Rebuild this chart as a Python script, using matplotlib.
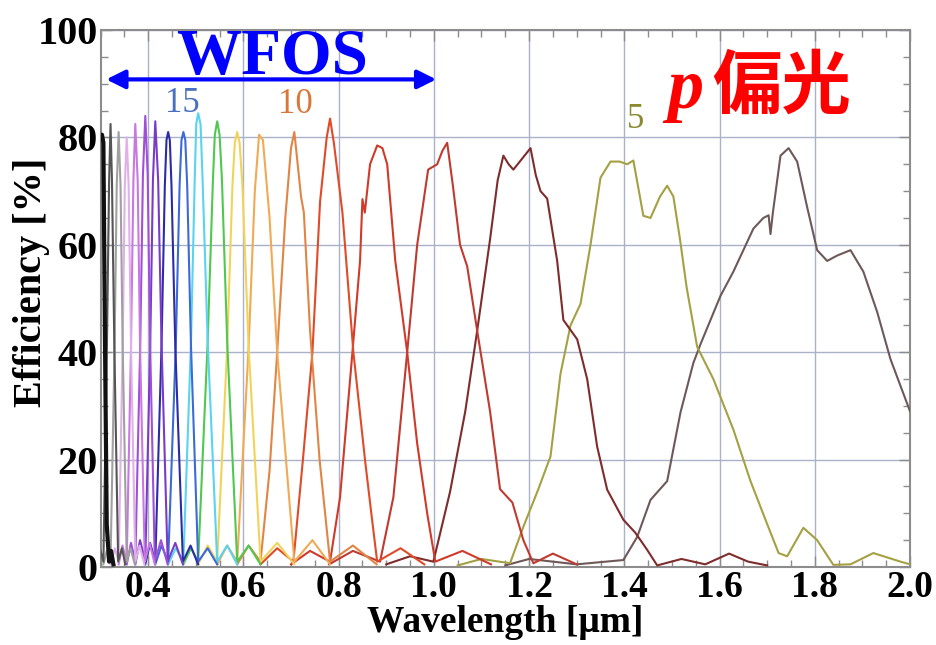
import matplotlib.pyplot as plt
from matplotlib.ticker import MultipleLocator

# efficiency curves, one per diffraction order
# wavelength in micron, efficiency in %
wl_m23 = [0.300, 0.303, 0.306, 0.309, 0.313, 0.318, 0.322, 0.327]
eff_m23 = [80, 80.5, 79, 45, 8, 1, 3, 0.5]

wl_m22 = [0.300, 0.306, 0.3135, 0.318, 0.321, 0.324, 0.329, 0.337, 0.345, 0.352]
eff_m22 = [3, 1, 42, 72, 82.5, 72, 41, 1, 3.5, 0.5]

wl_m21 = [0.306, 0.313, 0.321, 0.3295, 0.334, 0.338, 0.342, 0.3465, 0.355, 0.363, 0.372]
eff_m21 = [0.5, 3, 1, 41, 71, 81, 71, 41, 1, 3.5, 0.5]

wl_m20 = [0.321, 0.330, 0.338, 0.3465, 0.351, 0.355, 0.359, 0.364, 0.373, 0.382, 0.392]
eff_m20 = [0.5, 3.5, 1, 41, 71, 80, 71, 41, 1, 4, 0.5]

wl_m19 = [0.338, 0.346, 0.355, 0.364, 0.369, 0.373, 0.378, 0.383, 0.393, 0.403, 0.414]
eff_m19 = [0.5, 4, 1, 41, 72, 82.5, 72, 41, 1, 4.5, 0.5]

wl_m18 = [0.355, 0.364, 0.373, 0.3835, 0.389, 0.394, 0.399, 0.404, 0.414, 0.427, 0.441]
eff_m18 = [0.5, 4.5, 1, 42, 73, 84, 73, 42, 1, 5, 0.5]

wl_m17 = [0.373, 0.383, 0.394, 0.4045, 0.410, 0.415, 0.421, 0.428, 0.441, 0.457, 0.473]
eff_m17 = [0.5, 5, 1, 42, 72, 83, 72, 42, 1, 4.5, 0.5]

wl_m16 = [0.394, 0.404, 0.415, 0.428, 0.435, 0.4385, 0.442, 0.4455, 0.449, 0.457,
          0.473, 0.489, 0.505]
eff_m16 = [0.5, 4.5, 1, 41, 71, 79.5, 81, 79.5, 71, 41, 1, 4, 0.5]

wl_m15 = [0.415, 0.428, 0.442, 0.458, 0.466, 0.470, 0.474, 0.478, 0.482, 0.490,
          0.505, 0.525, 0.545]
eff_m15 = [0.5, 4, 1, 41, 71, 79.5, 81, 79.5, 71, 41, 1, 3.5, 0.5]

wl_m14 = [0.442, 0.458, 0.474, 0.490, 0.498, 0.501, 0.505, 0.510, 0.514, 0.525,
          0.545, 0.566, 0.587]
eff_m14 = [0.5, 3.5, 1, 42, 73, 82.5, 84.5, 82.5, 73, 42, 1, 4, 0.5]

wl_m13 = [0.474, 0.490, 0.505, 0.525, 0.536, 0.540, 0.545, 0.550, 0.555, 0.566,
          0.587, 0.611, 0.636]
eff_m13 = [0.5, 3.5, 1, 42, 72, 80.5, 83, 80.5, 72, 42, 1, 4, 0.5]

wl_m12 = [0.505, 0.525, 0.545, 0.566, 0.577, 0.582, 0.587, 0.592, 0.598, 0.611,
          0.636, 0.671, 0.707]
eff_m12 = [0.5, 4, 1, 41, 71, 79, 81, 79, 71, 41, 1, 4.5, 0.5]

wl_m11 = [0.545, 0.566, 0.587, 0.611, 0.624, 0.633, 0.641, 0.655, 0.671, 0.707, 0.745, 0.782]
eff_m11 = [0.5, 4, 1, 41, 70, 80.5, 79.5, 65, 40, 1, 5, 0.5]

wl_m10 = [0.587, 0.611, 0.636, 0.655, 0.671, 0.688, 0.700, 0.707, 0.714, 0.721, 0.727,
          0.740, 0.760, 0.782, 0.83, 0.88]
eff_m10 = [0.5, 4, 1, 18, 40, 65, 78, 81, 75, 69, 66, 44, 20, 1, 4, 0.5]

wl_m9 = [0.636, 0.671, 0.705, 0.725, 0.745, 0.761, 0.775, 0.782, 0.790, 0.808, 0.831,
         0.856, 0.870, 0.881, 0.93, 0.98]
eff_m9 = [0.5, 3.5, 1, 20, 40, 68, 80, 83.5, 79, 66, 40, 19.5, 9, 1, 3.5, 0.5]

wl_m8 = [0.70, 0.74, 0.782, 0.803, 0.829, 0.845, 0.850, 0.855, 0.866, 0.881, 0.892,
         0.902, 0.919, 0.944, 0.965, 0.986, 1.003, 1.06, 1.12]
eff_m8 = [0.5, 3, 1, 13, 40, 57, 68.5, 66, 75, 78.5, 78, 75, 57, 40, 23, 10, 1, 3, 0.5]

wl_m7 = [0.78, 0.83, 0.887, 0.915, 0.944, 0.965, 0.988, 1.007, 1.018, 1.028, 1.040,
         1.055, 1.070, 1.091, 1.118, 1.139, 1.165, 1.188, 1.209, 1.25, 1.30]
eff_m7 = [0.5, 3, 1, 13, 40, 60, 74, 75, 77.5, 79, 71, 60, 56, 44, 29, 14.5, 12, 5,
          0.7, 2.5, 0.5]

wl_m6 = [0.90, 0.95, 0.999, 1.034, 1.066, 1.091, 1.118, 1.134, 1.146, 1.157, 1.167,
         1.185, 1.203, 1.214, 1.224, 1.238, 1.259, 1.272, 1.301, 1.322, 1.343, 1.364,
         1.398, 1.423, 1.448, 1.469, 1.52, 1.57, 1.62, 1.66, 1.70]
eff_m6 = [0.5, 2, 1, 14, 29, 44, 61, 72, 76.6, 75, 74, 76, 78, 73, 70, 68.6, 57, 46,
          42.4, 35, 22.4, 14.4, 8.8, 6.4, 3.2, 0.3, 1.5, 0.5, 2.5, 1, 0.3]

wl_m5 = [1.05, 1.10, 1.160, 1.188, 1.219, 1.245, 1.266, 1.287, 1.308, 1.329, 1.350,
         1.371, 1.390, 1.406, 1.419, 1.440, 1.455, 1.475, 1.490, 1.503, 1.517, 1.531,
         1.553, 1.587, 1.629, 1.665, 1.700, 1.724, 1.742, 1.776, 1.805, 1.839, 1.875,
         1.923, 1.980, 2.0]
eff_m5 = [0.3, 1.5, 0.7, 7.5, 14.4, 20.6, 36, 45, 49, 60, 72.5, 75.5, 75.5, 75, 75.7,
          65.4, 65, 69, 71, 69, 61, 52, 41, 35, 25.6, 16, 8, 2.6, 2, 7.3, 5, 0.4, 0.5,
          2.6, 1, 0.5]

wl_m4 = [1.15, 1.20, 1.30, 1.398, 1.427, 1.455, 1.490, 1.518, 1.545, 1.560, 1.581,
         1.602, 1.629, 1.650, 1.671, 1.692, 1.703, 1.707, 1.712, 1.728, 1.745, 1.763,
         1.784, 1.805, 1.826, 1.847, 1.875, 1.902, 1.931, 1.959, 2.0]
eff_m4 = [0.3, 1.5, 0.5, 1.3, 5.6, 12.5, 16, 28.8, 38, 41.5, 46, 50.5, 55, 59, 63, 65,
          65.5, 62, 66, 76.6, 78, 75.5, 67, 59, 57, 58, 59, 55, 47.5, 38.7, 29]

order_colors = ['#6e5858', '#a5a043', '#7e2c2c', '#c03a30', '#d03a2a', '#e04a28',
                '#e08545', '#f0aa55', '#f2d35a', '#50c850', '#58d4f0', '#3c6ad8',
                '#2c2ca8', '#7a3cc8', '#a050d8', '#c878e0', '#e0b0e8', '#a0a0a0',
                '#555555', '#111111']

curves = [(wl_m4, eff_m4), (wl_m5, eff_m5), (wl_m6, eff_m6), (wl_m7, eff_m7),
          (wl_m8, eff_m8), (wl_m9, eff_m9), (wl_m10, eff_m10), (wl_m11, eff_m11),
          (wl_m12, eff_m12), (wl_m13, eff_m13), (wl_m14, eff_m14), (wl_m15, eff_m15),
          (wl_m16, eff_m16), (wl_m17, eff_m17), (wl_m18, eff_m18), (wl_m19, eff_m19),
          (wl_m20, eff_m20), (wl_m21, eff_m21), (wl_m22, eff_m22), (wl_m23, eff_m23)]

xticks = [0.4, 0.6, 0.8, 1.0, 1.2, 1.4, 1.6, 1.8, 2.0]
yticks = [0, 20, 40, 60, 80, 100]

serif = ['Liberation Serif', 'DejaVu Serif']
frame_gray = '#8c8c8c'

fig = plt.figure(figsize=(9.37, 6.45), dpi=100)
ax = fig.add_axes([0.1073, 0.1209, 0.8639, 0.8326])

for (wl, eff), col in zip(curves, order_colors):
    lw = 3.0 if col == '#111111' else 1.5
    ax.plot(wl, eff, color=col, lw=lw, solid_joinstyle='round', zorder=3)

ax.set_xlim(0.3, 2.0)
ax.set_ylim(0, 100)
ax.set_xticks(xticks)
ax.set_xticklabels(['%.1f' % t for t in xticks])
ax.set_yticks(yticks)
ax.set_yticklabels([str(t) for t in yticks])
ax.xaxis.set_minor_locator(MultipleLocator(0.05))
ax.yaxis.set_minor_locator(MultipleLocator(5))
ax.grid(True, which='major', color='#aab2c8', lw=1.0, zorder=1)

ax.tick_params(which='both', direction='in', top=True, right=True, color=frame_gray)
ax.tick_params(which='major', length=8, width=1)
ax.tick_params(which='minor', length=5, width=1)
ax.tick_params(axis='x', pad=2)
ax.tick_params(axis='y', pad=2)
for lab in ax.get_xticklabels():
    lab.set_fontfamily(serif)
    lab.set_fontweight('bold')
    lab.set_fontsize(27)
for lab in ax.get_yticklabels():
    lab.set_fontfamily(serif)
    lab.set_fontweight('bold')
    lab.set_fontsize(29)
for sp in ax.spines.values():
    sp.set_color(frame_gray)
    sp.set_linewidth(1.5)

ax.set_xlabel('Wavelength [μm]', family=serif, fontweight='bold', fontsize=27, labelpad=0.5)
ax.set_ylabel('Efficiency [%]', family=serif, fontweight='bold', fontsize=29)
ax.yaxis.set_label_coords(-0.062, 0.53)

# WFOS range arrow
ax.annotate('', xy=(0.312, 90.8), xytext=(1.005, 90.8),
            arrowprops=dict(arrowstyle='<|-|>', color='#0000ff', lw=3,
                            mutation_scale=28, shrinkA=0, shrinkB=0), zorder=5)
ax.text(0.661, 94.8, 'WFOS', color='#0000ff', family=serif, fontweight='bold',
        fontsize=47, ha='center', va='center', zorder=5)

# order labels
ax.text(0.471, 86.4, '15', color='#4a70c0', family=serif, fontsize=25, ha='center', va='center')
ax.text(0.709, 86.2, '10', color='#d87838', family=serif, fontsize=25, ha='center', va='center')
ax.text(1.423, 83.3, '5', color='#8a8a30', family=serif, fontsize=25, ha='center', va='center')

# polarisation label
ax.text(1.490, 85.5, 'p', color='#ff0000', family=serif, fontweight='bold',
        style='italic', fontsize=52, ha='left', va='baseline', zorder=5)
ax.text(1.585, 85.5, '偏光', color='#ff0000', family=['Noto Sans CJK JP', 'DejaVu Sans'],
        fontweight='bold', fontsize=50, ha='left', va='baseline', zorder=5)

fig.savefig('out.png', dpi=100)
